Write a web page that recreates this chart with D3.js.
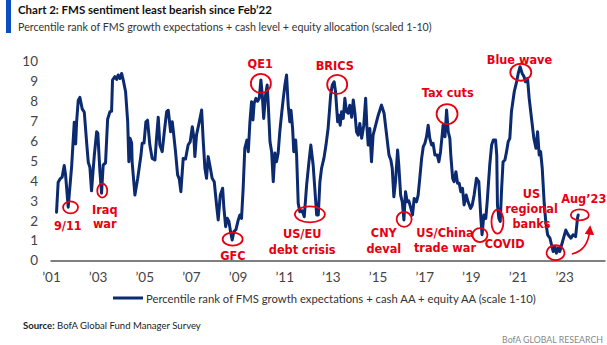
<!DOCTYPE html>
<html><head><meta charset="utf-8">
<script src="https://cdn.jsdelivr.net/npm/d3@7"></script>
<style>
html,body{margin:0;padding:0;background:#fff;}
svg{display:block;}
</style></head><body>
<svg id="chart" width="607" height="345"></svg>
<script>
// ---------- DATA (decimal year) ----------
const dates = [
2001.24,2001.31,2001.39,2001.48,2001.57,2001.63,2001.74,2001.89,2002.00,2002.06,2002.10,2002.17,2002.24,2002.34,2002.43,2002.53,2002.60,2002.67,2002.74,2002.86,2002.96,2003.01,2003.10,2003.17,2003.24,2003.34,2003.43,2003.53,2003.60,2003.64,2003.74,2003.82,2003.88,2003.96,2004.03,2004.10,2004.20,2004.29,2004.34,2004.39,2004.46,2004.48,2004.60,2004.72,2004.78,2004.86,2004.91,2004.99,2005.07,2005.14,2005.24,2005.34,2005.46,
2005.53,2005.60,2005.67,2005.77,2005.86,2005.96,2006.03,2006.13,2006.20,2006.25,2006.34,2006.43,2006.50,2006.57,2006.67,2006.77,2006.88,2006.97,2007.06,2007.13,2007.17,2007.24,2007.36,2007.46,2007.53,2007.60,2007.67,2007.74,2007.81,2007.91,2008.00,2008.10,2008.17,2008.26,2008.36,2008.41,2008.49,2008.56,2008.63,2008.70,2008.77,2008.84,2008.93,2009.03,2009.10,2009.17,2009.24,2009.31,2009.40,2009.46,2009.53,2009.60,2009.66,2009.71,2009.79,2009.86,2009.93,2010.00,2010.06,2010.12,2010.20,2010.27,2010.31,2010.39,2010.46,2010.53,2010.60,2010.67,2010.74,2010.81,2010.89,2010.96,2011.03,2011.10,2011.17,2011.24,2011.29,2011.36,2011.41,2011.49,2011.53,2011.60,2011.67,2011.77,2011.86,2011.96,2012.06,2012.14,2012.24,2012.31,2012.39,2012.46,2012.53,2012.60,2012.70,2012.79,2012.88,2012.99,2013.06,2013.14,2013.20,2013.29,2013.34,2013.40,2013.46,2013.53,2013.60,2013.67,2013.74,2013.81,2013.89,2013.96,2014.03,2014.10,2014.17,2014.24,2014.32,2014.41,2014.49,2014.54,2014.60,2014.67,2014.74,2014.81,2014.92,2015.03,2015.17,2015.28,2015.39,2015.49,2015.57,2015.63,2015.70,2015.77,2015.86,2015.91,2015.99,2016.06,2016.13,2016.20,2016.27,2016.34,2016.43,2016.50,2016.57,2016.67,2016.74,2016.81,2016.89,2016.96,2017.03,2017.10,2017.17,2017.24,2017.32,2017.38,2017.46,2017.56,2017.63,2017.70,2017.77,2017.81,2017.89,2017.96,2018.03,2018.10,2018.14,2018.22,2018.28,2018.36,2018.43,2018.50,2018.57,2018.64,2018.71,2018.80,2018.88,2018.99,2019.06,2019.14,2019.24,2019.34,2019.43,2019.48,2019.56,2019.64,2019.70,2019.74,2019.81,2019.89,2019.96,2020.06,2020.11,2020.14,2020.20,2020.26,2020.32,2020.38,2020.46,2020.53,2020.60,2020.67,2020.74,2020.86,2020.96,2021.03,2021.11,2021.20,2021.28,2021.34,2021.43,2021.50,2021.60,2021.70,2021.79,2021.86,2021.93,2021.99,2022.06,2022.14,2022.21,2022.29,2022.39,2022.46,2022.53,2022.60,2022.67,2022.74,2022.81,2022.89,2022.99,2023.07,2023.17,2023.29,2023.38,2023.49,2023.57,2023.60
];
const values = [
2.43,3.93,4.1,4.19,4.77,4.27,2.68,4.77,6.95,5.86,6.95,8.04,8.2,7.62,7.45,5.94,4.94,4.69,3.5,5.3,6.47,6.4,4.46,3.38,4.8,4.9,7.1,7.48,7.5,9.07,9.24,9.1,9.32,9.15,9.4,9.07,8.48,6.97,4.96,6.14,5.9,4.96,3.29,4.13,4.63,5.3,5.89,5.9,6.97,7.05,5.8,5.13,5.05,
6.2,7.2,5.8,5.47,6.47,7.48,7.55,6.47,6.97,6.47,5.47,4.3,4.1,3.46,5.13,5.1,5.8,5.97,6.72,6.14,5.22,6.3,6.97,7.56,5.97,4.63,4.13,5.22,4.8,4.13,3.96,2.79,2.04,3.29,3.63,2.7,1.7,2.12,1.96,1.45,1.03,1.45,1.55,2.04,2.29,2.12,3.63,5.64,6.05,5.47,6.97,7.98,7.06,7.9,8.15,8.0,8.15,9.07,8.3,7.14,8.3,8.82,7.98,5.97,5.47,3.96,5.4,4.96,5.4,6.47,7.39,8.15,8.82,9.32,7.8,6.97,7.55,6.63,5.47,6.05,5.3,2.87,2.45,2.5,2.2,3.79,4.96,5.8,4.8,3.63,2.29,2.29,3.96,4.63,5.13,5.8,6.63,8.3,8.82,8.98,8.48,6.97,7.3,6.8,7.48,7.14,8.15,7.48,7.4,7.8,7.2,8.07,7.4,6.47,6.3,6.89,6.14,6.8,8.15,6.8,5.8,6.63,4.96,6.3,6.8,7.3,7.81,7.4,6.3,5.3,5.05,4.63,3.2,3.96,5.55,4.8,3.29,2.95,2.04,3.46,2.95,3.0,2.62,2.29,3.12,2.95,3.29,4.13,5.13,5.72,5.89,6.22,6.8,6.14,5.8,5.89,5.3,5.3,4.96,5.47,6.3,6.8,6.22,7.56,6.47,6.14,5.3,4.13,3.96,4.46,3.88,3.88,3.46,3.63,2.79,3.29,2.95,2.62,2.79,3.29,4.13,3.96,2.12,1.3,2.29,2.12,2.95,3.63,4.8,5.8,6.05,6.05,5.3,2.79,2.12,1.96,3.63,4.96,5.05,5.47,5.97,6.14,7.48,8.48,8.98,9.4,9.74,9.4,9.24,8.98,9.15,8.15,7.14,6.14,5.64,6.47,5.3,5.47,4.63,2.95,1.96,1.29,1.12,0.78,0.45,0.7,0.37,0.62,0.45,0.78,1.2,1.53,1.29,1.12,1.29,1.2,2.12,2.29
];
const yTicks = [0,1,2,3,4,5,6,7,8,9,10];
const xTickYears = [2001,2003,2005,2007,2009,2011,2013,2015,2017,2019,2021,2023];
const xTickLabels = ["’01","’03","’05","’07","’09","’11","’13","’15","’17","’19","’21","’23"];
const titleText = "Chart 2: FMS sentiment least bearish since Feb’22";
const subtitleText = "Percentile rank of FMS growth expectations + cash level + equity allocation (scaled 1-10)";
const legendText = "Percentile rank of FMS growth expectations + cash AA + equity AA (scale 1-10)";
const sourceLabel = "Source:";
const sourceText = " BofA Global Fund Manager Survey";
const brandText = "BofA GLOBAL RESEARCH";
// annotation events (anchor in data units)
const eventLabels = [["9/11"],["Iraq","war"],["GFC"],["QE1"],["US/EU","debt crisis"],["BRICS"],["CNY","deval"],["Tax cuts"],["US/China","trade war"],["COVID"],["Blue wave"],["US","regional","banks"],["Aug’23"]];
const eventYears  = [2001.84,2003.20,2008.79,2010.00,2012.10,2013.27,2016.14,2017.98,2019.39,2020.14,2021.14,2022.63,2023.67];
const eventValues = [2.67,3.51,1.07,8.90,2.32,8.85,2.07,7.36,1.28,1.95,9.46,0.39,2.29];

// ---------- LAYOUT ----------
const navy = "#0b2a6f", red = "#e60012";
const NARROW = "'Liberation Sans Narrow','DejaVu Sans Condensed','Arial Narrow',sans-serif";
const SANS = "Lato,'Open Sans',sans-serif";
// label layout per event: [dx, [dy...], rx, ry]
const eventLayout = [
  [-2.7,[22.7],7.5,6],
  [2.5,[23.3,37.8],5,7],
  [0.3,[20.7],10,6.5],
  [-0.7,[-15.8],10,9.5],
  [-7.7,[23.7,39.7],15,8],
  [-2.3,[-14.3],10,9.5],
  [-20.3,[17.2,33.2],7.5,7.5],
  [0.7,[-17.5],10.5,10],
  [-35,[1.5,16.5],7.5,7],
  [7.3,[26.3],6,12],
  [-1.3,[-8.3],10.5,8.5],
  [-24,[-54.7,-39.4,-24.7],9,7.5],
  [4,[-11.7],9,5.5]
];

const svg = d3.select("#chart");
const x = d3.scaleLinear().domain([2000.96, 2024.75]).range([50, 605]);
const y = d3.scaleLinear().domain([0, 10]).range([260.5, 61.5]);

// scale font size so a text spans the wanted width
function fit(sel, width) {
  const fs = +sel.attr("font-size");
  const w = sel.node().getComputedTextLength();
  if (w > 0) sel.attr("font-size", (fs * width / w).toFixed(2));
  return sel;
}

// header
svg.append("rect").attr("x",6).attr("y",0).attr("width",5).attr("height",33).attr("fill","#0a4fc0");
fit(svg.append("text").attr("x",18).attr("y",14).attr("font-family",SANS).attr("font-weight","bold")
  .attr("font-size",14).attr("fill","#111").text(titleText), 254);
fit(svg.append("text").attr("x",18).attr("y",31).attr("font-family",SANS)
  .attr("font-size",13).attr("fill","#333").text(subtitleText), 414);

// y axis labels
svg.append("g").selectAll("text").data(yTicks).join("text")
  .attr("x",38).attr("y",d=>y(d)+4.8).attr("text-anchor","end")
  .attr("font-family",SANS).attr("font-size",13.5).attr("fill","#444").text(d=>d);

// x axis
const xAxis = d3.axisBottom(x).tickValues(xTickYears).tickSize(0).tickPadding(12)
  .tickFormat((d,i)=>xTickLabels[i]);
const gx = svg.append("g").attr("transform",`translate(0,${y(0)})`).call(xAxis);
gx.select(".domain").attr("stroke","#555").attr("stroke-width",1.6);
gx.selectAll("text").attr("font-family",SANS).attr("font-size",13.5).attr("fill","#444");

// line
const line = d3.line().x((d,i)=>x(dates[i])).y(d=>y(d));
svg.append("path").datum(values).attr("d",line).attr("fill","none")
  .attr("stroke",navy).attr("stroke-width",3).attr("stroke-linejoin","round").attr("stroke-linecap","round");

// annotations
const ann = svg.append("g");
eventLabels.forEach((lines,i)=>{
  const cx = x(eventYears[i]), cy = y(eventValues[i]);
  const [dx,dys,rx,ry] = eventLayout[i];
  ann.append("ellipse").attr("cx",cx).attr("cy",cy).attr("rx",rx).attr("ry",ry)
    .attr("fill","none").attr("stroke",red).attr("stroke-width",1.8);
  lines.forEach((t,j)=>{
    ann.append("text").attr("x",cx+dx).attr("y",cy+dys[j]).attr("text-anchor","middle")
      .attr("font-family",NARROW).attr("font-weight","bold").attr("font-size",12.6)
      .attr("fill",red).text(t);
  });
});
// arrow to Aug'23
svg.append("defs").append("marker").attr("id","ah").attr("viewBox","0 0 10 10")
  .attr("refX",5).attr("refY",5).attr("markerWidth",6).attr("markerHeight",6).attr("orient","auto")
  .append("path").attr("d","M0,0L10,5L0,10z").attr("fill",red);
const a0x = x(eventYears[12]) - 8, a0y = y(eventValues[12]) + 39;
svg.append("path").attr("d",`M${a0x},${a0y} Q${a0x+16},${a0y-3} ${a0x+18},${a0y-24}`)
  .attr("fill","none").attr("stroke",red).attr("stroke-width",1.6).attr("marker-end","url(#ah)");

// legend
svg.append("line").attr("x1",113).attr("x2",143).attr("y1",298).attr("y2",298)
  .attr("stroke",navy).attr("stroke-width",3);
fit(svg.append("text").attr("x",146).attr("y",302.5).attr("font-family",SANS).attr("font-size",13.5)
  .attr("fill","#333").text(legendText), 390);

// footer
const src = svg.append("text").attr("x",23).attr("y",329).attr("font-family",SANS).attr("font-size",10.5)
  .attr("fill","#222");
src.append("tspan").attr("font-weight","bold").text(sourceLabel);
src.append("tspan").text(sourceText);
fit(src, 178);
fit(svg.append("text").attr("x",603).attr("y",343).attr("text-anchor","end").attr("font-family",SANS)
  .attr("font-size",10).attr("fill","#888").text(brandText), 101);
</script>
</body></html>
